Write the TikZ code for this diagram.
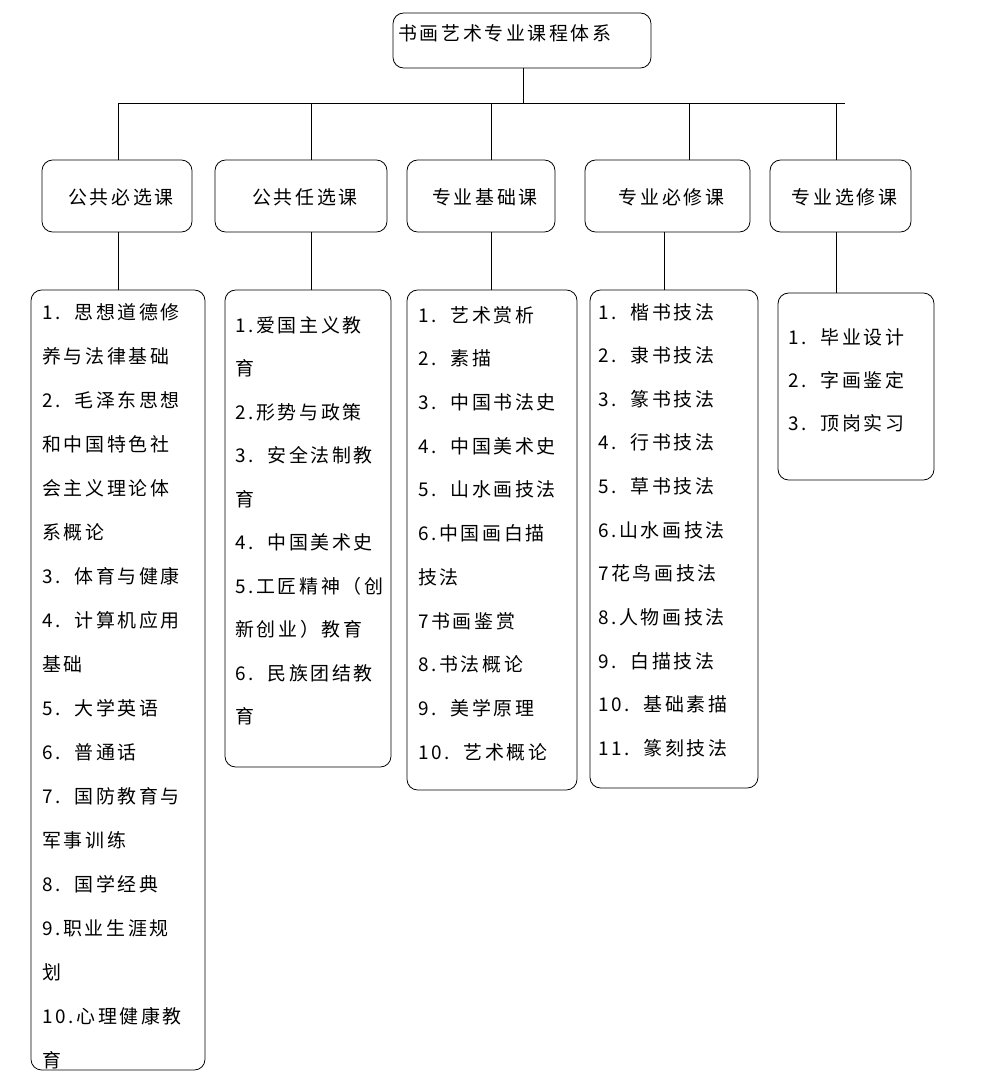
\documentclass[tikz,border=0pt]{standalone}
\usepackage{fontspec}
\newfontfamily\cjk[LetterSpace=14]{Noto Sans CJK SC}
\begin{document}
\begin{tikzpicture}[x=0.75pt,y=-0.75pt,
  bx/.style={draw,semithick,rounded corners=8pt},
  ln/.style={semithick},
  tx/.style={anchor=west,inner sep=0pt,font=\cjk\fontsize{14.2pt}{15pt}\selectfont}]
\useasboundingbox (0,0) rectangle (999,1085);
% top
\draw[bx] (393,13) rectangle (651,68);
\node[tx] (top) at (398,33) {书画艺术专业课程体系};
\coordinate (tb) at (523,68);
\coordinate (tj) at (523,103);
\draw[ln] (tb) -- (tj);
\draw[ln] (118,103) -- (845,103);
% level 2
\foreach \n/\a/\b/\cx/\t in {a/42/192/118/公共必选课,b/215/387/311/公共任选课,c/407/555/491/专业基础课,d/585/750/689/专业必修课,e/770/911/836/专业选修课}{
  \draw[bx] (\a,160) rectangle (\b,232);
  \node[tx,anchor=center] (\n) at ({(\a+\b)/2+4},197) {\t};
  \draw[ln] (\cx,103) -- (\cx,160);
}
% verticals down
\draw[ln] (118,232) -- (118,290);
\draw[ln] (311,232) -- (311,290);
\draw[ln] (491,232) -- (491,290);
\draw[ln] (664,232) -- (664,290);
\draw[ln] (836,232) -- (836,293);
% bottom boxes
\draw[bx] (31,290) rectangle (205,1070);
\draw[bx] (225,290) rectangle (391,767);
\draw[bx] (407,290) rectangle (577,790);
\draw[bx] (590,290) rectangle (758,788);
\draw[bx] (778,293) rectangle (934,480);
% col1
\foreach \t [count=\i from 0] in {1.\ \ 思想道德修,养与法律基础,2.\ \ 毛泽东思想,和中国特色社,会主义理论体,系概论,3.\ \ 体育与健康,4.\ \ 计算机应用,基础,5.\ \ 大学英语,6.\ \ 普通话,7.\ \ 国防教育与,军事训练,8.\ \ 国学经典,9.职业生涯规,划,10.心理健康教,育}
  \node[tx] at (42,{312+44*\i}) {\t};
% col2
\foreach \t [count=\i from 0] in {1.爱国主义教,育,2.形势与政策,3.\ \ 安全法制教,育,4.\ \ 中国美术史,5.工匠精神（创,新创业）教育,6.\ \ 民族团结教,育}
  \node[tx] at (235,{325+43.5*\i}) {\t};
% col3
\foreach \t [count=\i from 0] in {1.\ \ 艺术赏析,2.\ \ 素描,3.\ \ 中国书法史,4.\ \ 中国美术史,5.\ \ 山水画技法,6.中国画白描,技法,7书画鉴赏,8.书法概论,9.\ \ 美学原理,10.\ \ 艺术概论}
  \node[tx] at (418,{315+43.7*\i}) {\t};
% col4
\foreach \t [count=\i from 0] in {1.\ \ 楷书技法,2.\ \ 隶书技法,3.\ \ 篆书技法,4.\ \ 行书技法,5.\ \ 草书技法,6.山水画技法,7花鸟画技法,8.人物画技法,9.\ \ 白描技法,10.\ \ 基础素描,11.\ \ 篆刻技法}
  \node[tx] at (598,{312+43.6*\i}) {\t};
% col5
\foreach \t [count=\i from 0] in {1.\ \ 毕业设计,2.\ \ 字画鉴定,3.\ \ 顶岗实习}
  \node[tx] at (788,{337+43*\i}) {\t};
\end{tikzpicture}
\end{document}
